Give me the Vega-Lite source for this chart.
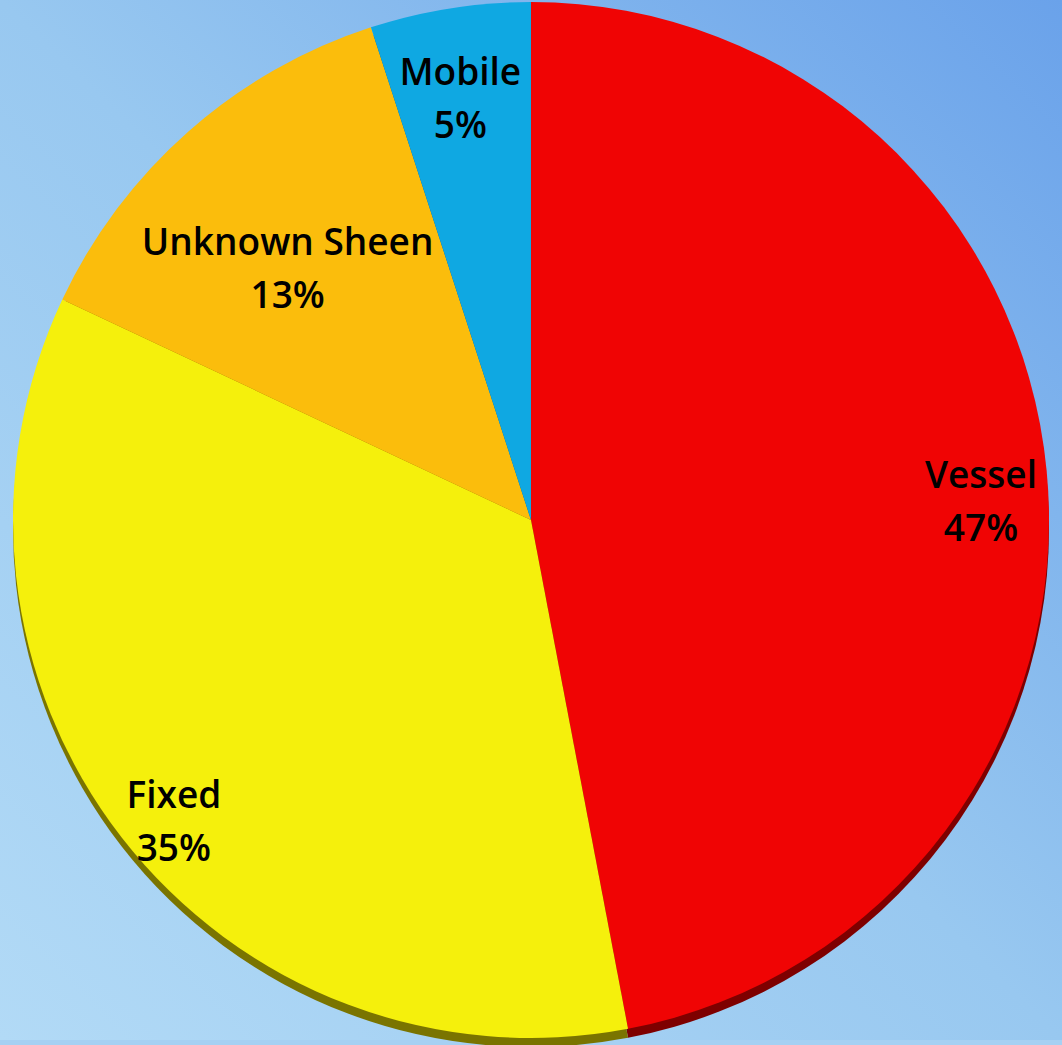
{
  "$schema": "https://vega.github.io/schema/vega-lite/v6.json",
  "width": 1062,
  "height": 1045,
  "autosize": {"type": "fit", "contains": "padding"},
  "padding": 0,
  "background": "#a6d0f3",
  "config": {"view": {"stroke": null}},
  "data": {
    "values": [
      {"category": "Vessel", "value": 47, "order": 1},
      {"category": "Fixed", "value": 35, "order": 2},
      {"category": "Unknown Sheen", "value": 13, "order": 3},
      {"category": "Mobile", "value": 5, "order": 4}
    ]
  },
  "transform": [
    {"stack": "value", "groupby": [], "sort": [{"field": "order", "order": "ascending"}], "as": ["v0", "v1"]},
    {"calculate": "(datum.v0 + datum.v1) / 2", "as": "mid"},
    {"calculate": "datum.category + '\\n' + datum.value + '%'", "as": "label"}
  ],
  "layer": [
    {
      "data": {"values": [{"bg": 1}]},
      "mark": {
        "type": "rect",
        "color": {
          "gradient": "linear",
          "x1": 0, "y1": 1, "x2": 1, "y2": 0,
          "stops": [
            {"offset": 0, "color": "#b2daf6"},
            {"offset": 0.5, "color": "#98c8f0"},
            {"offset": 1, "color": "#6aa2ea"}
          ]
        }
      },
      "encoding": {}
    },
    {
      "mark": {"type": "arc", "radius": 518, "yOffset": 9},
      "encoding": {
        "theta": {"field": "v0", "type": "quantitative", "scale": {"domain": [0, 100]}},
        "theta2": {"field": "v1"},
        "color": {
          "field": "category", "type": "nominal", "legend": null,
          "scale": {"domain": ["Vessel", "Fixed", "Unknown Sheen", "Mobile"], "range": ["#7e0000", "#7a7400", "#8a6a00", "#0a5a80"]}
        }
      }
    },
    {
      "mark": {"type": "arc", "radius": 518},
      "encoding": {
        "theta": {"field": "v0", "type": "quantitative", "scale": {"domain": [0, 100]}},
        "theta2": {"field": "v1"},
        "color": {
          "field": "category", "type": "nominal", "legend": null,
          "scale": {"domain": ["Vessel", "Fixed", "Unknown Sheen", "Mobile"], "range": ["#f00404", "#f5f00c", "#fbbd0c", "#0fa8e2"]}
        }
      }
    },
    {
      "transform": [{"filter": "datum.category != 'Unknown Sheen'"}],
      "mark": {"type": "text", "radius": 452, "font": "Open Sans", "fontWeight": 600, "fontSize": 37, "lineBreak": "\n", "lineHeight": 53, "align": "center", "baseline": "middle", "color": "#000000"},
      "encoding": {
        "theta": {"field": "mid", "type": "quantitative", "scale": {"domain": [0, 100]}},
        "text": {"field": "label"}
      }
    },
    {
      "transform": [{"filter": "datum.category == 'Unknown Sheen'"}],
      "mark": {"type": "text", "radius": 368, "font": "Open Sans", "fontWeight": 600, "fontSize": 37, "lineBreak": "\n", "lineHeight": 53, "align": "center", "baseline": "middle", "color": "#000000"},
      "encoding": {
        "theta": {"field": "mid", "type": "quantitative", "scale": {"domain": [0, 100]}},
        "text": {"field": "label"}
      }
    }
  ],
  "resolve": {"scale": {"color": "independent"}}
}
